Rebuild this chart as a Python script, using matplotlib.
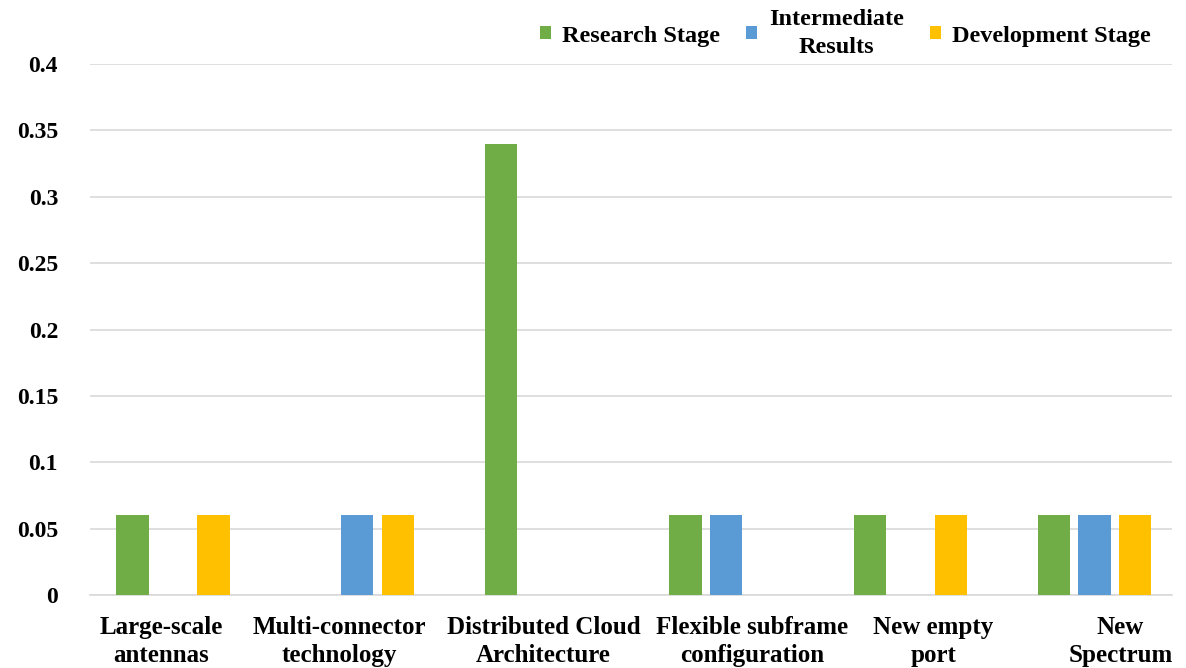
import matplotlib
matplotlib.use("Agg")
import matplotlib.pyplot as plt
import numpy as np

categories = [
    "Large-scale\nantennas",
    "Multi-connector\ntechnology",
    "Distributed Cloud\nArchitecture",
    "Flexible subframe\nconfiguration",
    "New empty\nport",
    "New\nSpectrum",
]
series_names = ["Research Stage", "Intermediate\nResults", "Development Stage"]
research = [0.06, 0.0, 0.34, 0.06, 0.06, 0.06]
intermediate = [0.0, 0.06, 0.0, 0.06, 0.0, 0.06]
development = [0.06, 0.06, 0.0, 0.0, 0.06, 0.06]
yticks = [0, 0.05, 0.1, 0.15, 0.2, 0.25, 0.3, 0.35, 0.4]
ytick_labels = ["0", "0.05", "0.1", "0.15", "0.2", "0.25", "0.3", "0.35", "0.4"]

colors = ["#70ad47", "#5b9bd5", "#ffc000"]
# horizontal nudge of each category label relative to its bar group
label_shift = [-0.065, -0.098, 0.011, 0.141, 0.125, 0.141]

plt.rcParams["font.family"] = ["Liberation Serif", "DejaVu Serif"]
plt.rcParams["font.weight"] = "bold"

fig = plt.figure(figsize=(11.86, 6.68), dpi=100)
ax = fig.add_axes([90 / 1186, 1 - 595 / 668, (1172 - 90) / 1186, (595 - 64) / 668])

x = np.arange(len(categories))
width = 0.175
step = 0.22
for i, (vals, name, c) in enumerate(zip([research, intermediate, development], series_names, colors)):
    ax.bar(x + (i - 1) * step, vals, width, color=c, label=name, zorder=3)

ax.set_ylim(0, 0.4)
ax.set_xlim(-0.45, 5.42)
ax.set_yticks(yticks)
ax.set_yticklabels(ytick_labels, fontsize=17, fontweight="bold")
ax.set_xticks(x + np.array(label_shift))
ax.set_xticklabels(categories, fontsize=18, fontweight="bold", linespacing=1.28)
ax.tick_params(axis="both", length=0)
ax.tick_params(axis="y", pad=23)
ax.tick_params(axis="x", pad=15)
ax.grid(axis="y", color="#d9d9d9", linewidth=1.2, zorder=0)
for side in ["top", "right", "left"]:
    ax.spines[side].set_visible(False)
ax.spines["bottom"].set_color("#d9d9d9")
ax.spines["bottom"].set_linewidth(1.2)

leg = fig.legend(loc="upper right", bbox_to_anchor=(1162 / 1186, 1.003), ncol=3, frameon=False,
                 handlelength=0.45, handleheight=0.45, handletextpad=0.48,
                 columnspacing=1.07, borderaxespad=0.05,
                 prop={"weight": "bold", "size": 17.5})
for t in leg.get_texts():
    t.set_multialignment("center")
    t.set_linespacing(1.45)

fig.savefig("out.png", dpi=100)
